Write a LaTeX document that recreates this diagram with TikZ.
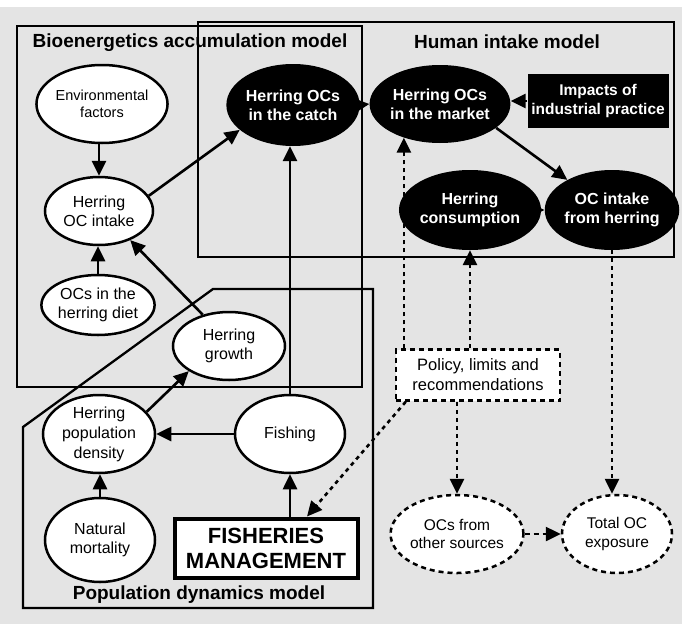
\documentclass[tikz,border=0pt]{standalone}
\usepackage{fontspec}
\setmainfont{Liberation Sans}
\usetikzlibrary{shapes.geometric,arrows.meta}
\definecolor{bg}{HTML}{E4E4E4}
\begin{document}
\begin{tikzpicture}[x=1pt,y=-1pt,
  frame/.style={line width=2.3pt},
  titletext/.style={font=\fontsize{19}{22}\selectfont\bfseries},
  wnode/.style={ellipse,draw,fill=white,line width=2.5pt,inner sep=0pt,align=center,
    font=\fontsize{16}{19}\selectfont},
  bnode/.style={ellipse,fill=black,text=white,inner sep=0pt,align=center,
    font=\fontsize{16}{19}\selectfont\bfseries},
  dnode/.style={wnode,dash pattern=on 5pt off 4pt,line width=2.5pt},
  arr/.style={line width=2.6pt,-{Triangle[length=15pt,width=14pt]}},
  darr/.style={arr,dash pattern=on 4pt off 4pt,line width=2.6pt},
]
\useasboundingbox (0,0) rectangle (682,624);
\fill[white] (0,0) rectangle (682,624);
\fill[bg] (0,7) rectangle (682,624);

% model frames
\draw[frame] (17,26) rectangle (362,387);
\draw[frame] (198,22) rectangle (674,257);
\draw[frame] (213,289) -- (373,289) -- (373,608) -- (23,608) -- (23,427) -- cycle;

\node[titletext] (tbio) at (190,43) {Bioenergetics accumulation model};
\node[titletext] (thum) at (507,42) {Human intake model};
\node[titletext] (tpop) at (199,595) {Population dynamics model};

% white nodes
\node[wnode,minimum width=110pt,minimum height=78pt,font=\fontsize{14.5}{17}\selectfont] (env) at (102,104) {Environmental\\factors};
\node[wnode,minimum width=108pt,minimum height=68pt] (intake) at (99,211) {Herring\\OC intake};
\node[wnode,minimum width=110pt,minimum height=60pt] (diet) at (98,305) {OCs in the\\herring diet};
\node[wnode,minimum width=112pt,minimum height=68pt] (growth) at (229,346) {Herring\\growth};
\node[wnode,minimum width=112pt,minimum height=78pt,font=\fontsize{16}{20}\selectfont] (dens) at (99,434) {Herring\\population\\density};
\node[wnode,minimum width=110pt,minimum height=78pt] (fishing) at (290,434) {Fishing};
\node[wnode,minimum width=110pt,minimum height=84pt] (nat) at (100,540) {Natural\\mortality};
\node[draw,fill=white,line width=4pt,minimum width=183pt,minimum height=59pt,inner sep=0pt,align=center,
  font=\fontsize{22}{25}\selectfont\bfseries] (fm) at (266,548) {FISHERIES\\MANAGEMENT};

% black nodes
\node[bnode,minimum width=110pt,minimum height=82pt] (catch) at (293,105) {Herring OCs\\in the catch};
\node[bnode,minimum width=110pt,minimum height=78pt] (market) at (440,104) {Herring OCs\\in the market};
\node[fill=black,text=white,minimum width=141pt,minimum height=54pt,inner sep=0pt,align=center,
  font=\fontsize{15.5}{18.5}\selectfont\bfseries] (impacts) at (598,101) {Impacts of\\industrial practice};
\node[bnode,minimum width=112pt,minimum height=80pt] (cons) at (470,210) {Herring\\consumption};
\node[bnode,minimum width=110pt,minimum height=80pt] (intakeH) at (612,210) {OC intake\\from herring};

% dashed nodes
\node[draw,fill=white,dash pattern=on 5pt off 4pt,line width=2.5pt,minimum width=164pt,minimum height=51pt,
  inner sep=0pt,align=center,font=\fontsize{16.5}{20}\selectfont] (policy) at (478,375) {Policy, limits and\\recommendations};
\node[dnode,minimum width=110pt,minimum height=78pt,font=\fontsize{15.5}{18.5}\selectfont] (other) at (457,534) {OCs from\\other sources};
\node[dnode,minimum width=110pt,minimum height=78pt,font=\fontsize{15.5}{18.5}\selectfont] (total) at (617,534) {Total OC\\exposure};

% solid connectors
\draw[arr] (env.south -| intake.north) -- (intake.north);
\draw[arr] (diet.north) -- (diet.north |- intake.south);
\draw[arr] (intake.17) -- (catch.205);
\draw[arr] (growth.130) -- (intake.317);
\draw[arr] (fishing.north) -- (fishing.north |- catch.south);
\draw[arr] (fishing.west) -- (dens.east);
\draw[arr] (dens.25) -- (growth.212);
\draw[arr] (nat.north) -- (nat.north |- dens.south);
\draw[arr] (fishing.south |- fm.north) -- (fishing.south);
\draw[arr] (catch.east) -- (market.west);
\draw[arr] (impacts.west) -- (impacts.west -| market.east);
\draw[arr] (market.337) -- (intakeH.146);
\draw[arr] (cons.east) -- (intakeH.west);

% dotted connectors
\draw[darr] (market.223 |- policy.north) -- (market.223);
\draw[darr] (cons.south |- policy.north) -- (cons.south);
\draw[darr] (other.north |- policy.south) -- (other.north);
\draw[darr] (intakeH.south) -- (intakeH.south |- total.north);
\draw[darr] ([xshift=11pt]policy.south west) -- ([xshift=41pt]fm.north);
\draw[arr,dash pattern=on 5pt off 4pt,line width=2.5pt] (other.east) -- (total.west);
\end{tikzpicture}
\end{document}
